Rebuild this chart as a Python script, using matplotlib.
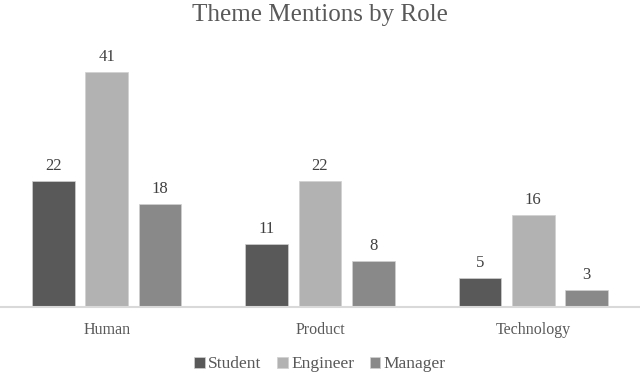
import numpy as np
import matplotlib.pyplot as plt

categories = ["Human", "Product", "Technology"]
roles = ["Student", "Engineer", "Manager"]
student = [22, 11, 5]
engineer = [41, 22, 16]
manager = [18, 8, 3]

colors = ["#595959", "#b2b2b2", "#898989"]
plt.rcParams['font.family'] = ['Liberation Serif', 'DejaVu Serif']

fig = plt.figure(figsize=(6.4, 3.73), dpi=100)
ax = fig.add_axes([0.0, 0.177, 1.0, 0.692])

x = np.arange(len(categories))
w = 0.2
offsets = [-0.25, 0, 0.25]
for vals, off, col, name in zip([student, engineer, manager], offsets, colors, roles):
    bars = ax.bar(x + off, vals, w, color=col, label=name, edgecolor="#d0d0d0", linewidth=0.5)
    for b, v in zip(bars, vals):
        ax.text(b.get_x() + b.get_width() / 2, v + 1.2, str(v), ha="center", va="bottom",
                fontsize=12, color="#404040")

ax.set_xlim(-0.5, 2.5)
ax.set_ylim(0, 45)
ax.set_yticks([])
ax.set_xticks(x)
ax.set_xticklabels(categories, fontsize=11.5, color="#595959")
ax.tick_params(axis="x", length=0, pad=11)
for s in ["top", "left", "right"]:
    ax.spines[s].set_visible(False)
ax.spines["bottom"].set_color("#d9d9d9")
ax.spines["bottom"].set_linewidth(1.5)

fig.suptitle("Theme Mentions by Role", y=0.99, fontsize=18, color="#595959")
fig.legend(loc="lower center", bbox_to_anchor=(0.5, -0.04), ncol=3, frameon=False,
           fontsize=12.5, handlelength=0.6, handleheight=0.6, handletextpad=0.2,
           columnspacing=0.9, labelcolor="#595959")

fig.savefig("out.png", dpi=100)
